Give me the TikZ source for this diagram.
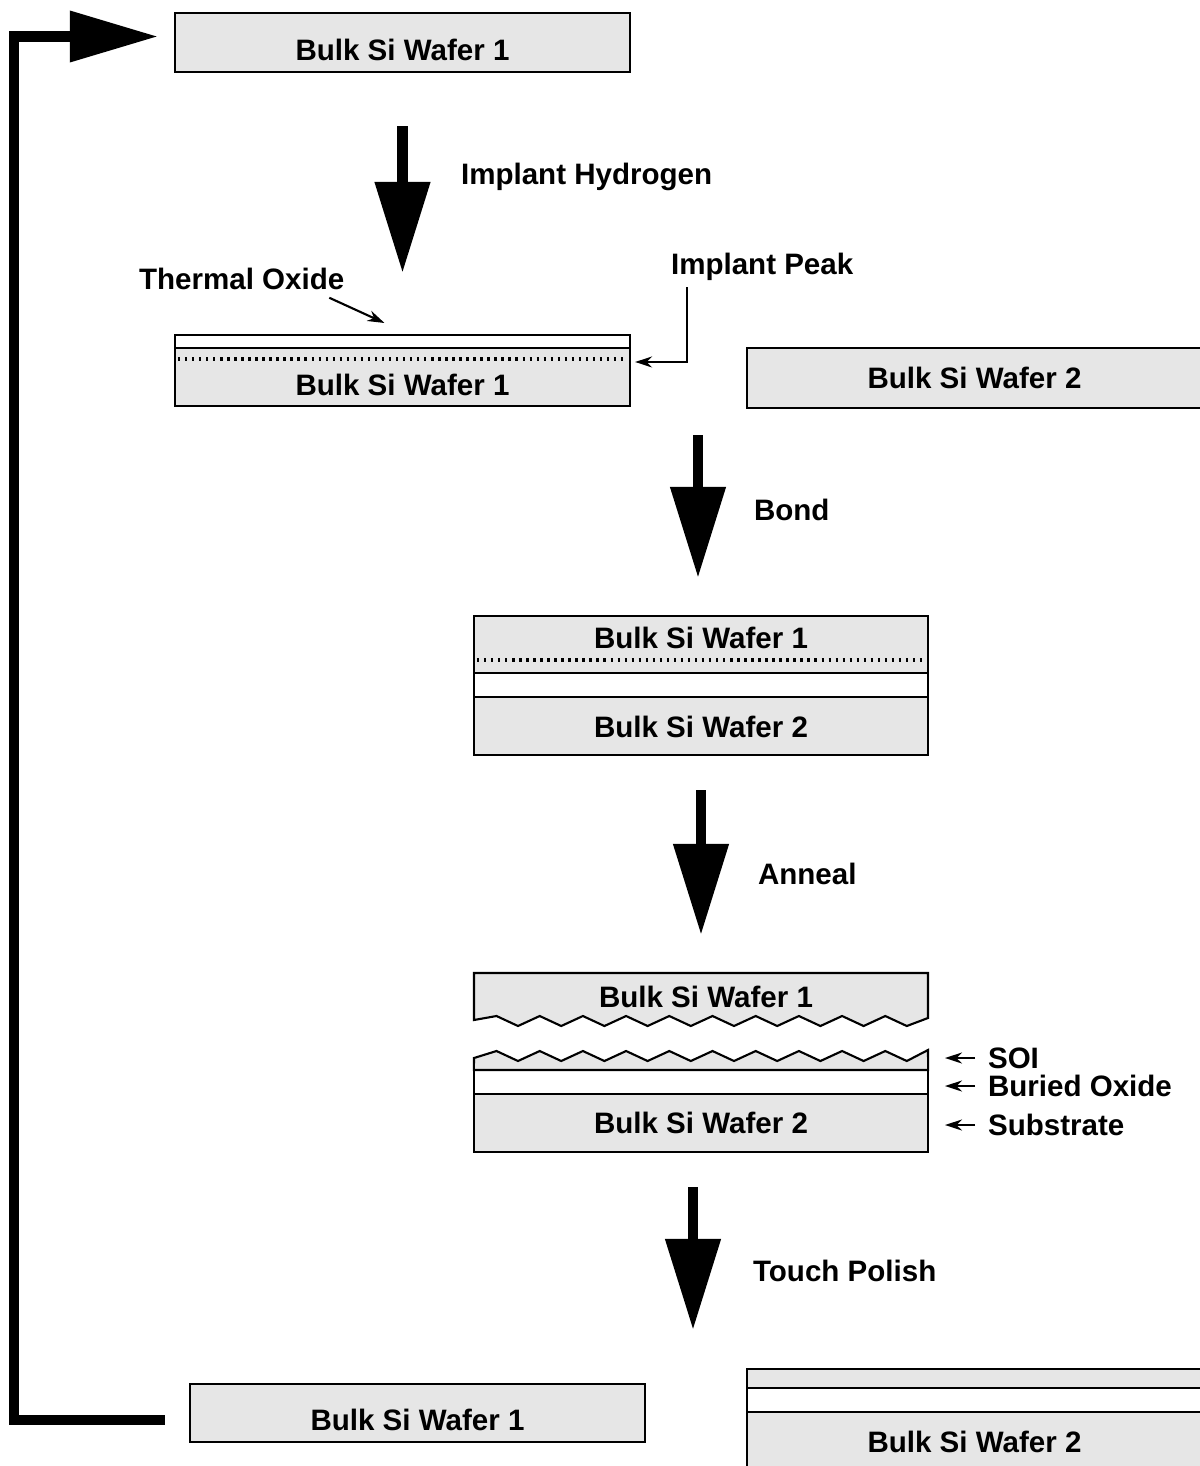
\documentclass[tikz,border=0pt]{standalone}
\usepackage{fontspec}
\setmainfont{Liberation Sans}
\usetikzlibrary{arrows.meta, positioning, calc}
\definecolor{sigrey}{HTML}{E6E6E6}
\tikzset{
  every picture/.style={font=\bfseries\fontsize{8.4}{10}\selectfont, line width=0.6pt},
  wafer/.style={draw, fill=sigrey, minimum width=4.55cm, minimum height=#1, inner sep=0pt, outer sep=0pt},
  wafer/.default=0.59cm,
  oxide/.style={draw, fill=white, minimum width=4.54cm, minimum height=#1, inner sep=0pt, outer sep=0pt},
  implantline/.style={line width=1pt, dash pattern=on 0.7pt off 1.3pt},
  bigarrow/.style={line width=3.1pt, -{Triangle[length=0.91cm, width=0.53cm]}},
  feed/.style={line width=2.9pt, -{Triangle[length=0.88cm, width=0.49cm]}},
  pointer/.style={line width=0.6pt, -{Stealth[length=1.7mm, width=1.1mm]}},
  steplabel/.style={anchor=west, inner sep=0pt, text depth=0pt},
}
\begin{document}
\begin{tikzpicture}[x=0.01cm, y=-0.01cm]
  \useasboundingbox (0,0) rectangle (1199,1466);
  \node[wafer] (top1) at (402.5,42.5) {};
  \node (top1t) at (402.5,49.5) {Bulk Si Wafer 1};
  \node[wafer=0.71cm] (ox1) at (402.5,370.5) {};
  \draw[fill=white] (ox1.north west) rectangle ($(ox1.north east)+(0,13)$);
  \draw[implantline] ($(ox1.north west)+(3,24)$) -- ($(ox1.north east)+(-3,24)$);
  \node (ox1t) at (402.5,385) {Bulk Si Wafer 1};
  \draw[bigarrow, shorten <=0.54cm, shorten >=0.62cm] (top1.south) -- (ox1.north);
  \node[steplabel] (implant) at (460,174) {Implant Hydrogen};
  \node[steplabel] (thox) at (138,279) {Thermal Oxide};
  \draw[pointer] ($(thox.south east)+(-16,7)$) -- ($(ox1.north)+(-18,-12)$);
  \node[steplabel] (peak) at (670,264) {Implant Peak};
  \coordinate (pk) at ($(ox1.north east)+(5,27)$);
  \draw[pointer] ($(peak.west)+(17,23)$) |- (pk);
  \node[wafer=0.6cm] (w2a) at (974.5,378) {Bulk Si Wafer 2};

  \node[wafer=1.39cm, minimum width=4.54cm] (stack) at (701,685.5) {};
  \draw[implantline] ($(stack.north west)+(3,44)$) -- ($(stack.north east)+(-3,44)$);
  \draw[fill=white] ($(stack.north west)+(0,57)$) rectangle ($(stack.north east)+(0,81)$);
  \node (stack1) at (701,638) {Bulk Si Wafer 1};
  \node (stack2) at (701,727) {Bulk Si Wafer 2};
  \coordinate (bond0) at (698,435);
  \draw[bigarrow, shorten >=0.38cm] (bond0) -- (bond0 |- stack.north);
  \node[steplabel] (bond) at (753,510) {Bond};

  \coordinate (split) at (701,973);
  \draw[bigarrow, shorten <=0.35cm, shorten >=0.38cm] (stack.south) -- (split);
  \node[steplabel] (anneal) at (757,874) {Anneal};
  \filldraw[fill=sigrey] (474,973) -- (474,1020)
    \foreach \k in {0,...,9} { -- ({496.5+43.2*\k},1016) -- ({518+43.2*\k},1026) }
    -- (928,1018) -- (928,973) -- cycle;
  \node (cut1) at (706,997) {Bulk Si Wafer 1};
  \node[wafer=0.58cm, minimum width=4.54cm] (sub) at (701,1123) {Bulk Si Wafer 2};
  \node[oxide=0.24cm, above=0pt of sub] (box) {};
  \filldraw[fill=sigrey] (box.north west) -- (474,1058)
    \foreach \k in {0,...,9} { -- ({496.5+43.2*\k},1051) -- ({518+43.2*\k},1061) }
    -- (928,1050) -- (box.north east) -- cycle;
  \node[steplabel] (soi) at (987,1058) {SOI};
  \node[steplabel] (bur) at (987,1086) {Buried Oxide};
  \node[steplabel] (subs) at (987,1125) {Substrate};
  \foreach \n in {soi, bur, subs}
    \draw[pointer] ([xshift=-0.12cm]\n.west) -- ([xshift=-0.42cm]\n.west);

  \coordinate (polish) at (693,1330);
  \draw[bigarrow, shorten <=0.35cm] (polish |- sub.south) -- (polish);
  \node[steplabel] (touch) at (752,1271) {Touch Polish};
  \node[wafer=0.58cm] (w1c) at (417.5,1413) {};
  \node (w1ct) at (417.5,1420) {Bulk Si Wafer 1};
  \node[wafer=0.6cm] (sub2) at (974.5,1442) {Bulk Si Wafer 2};
  \node[oxide=0.24cm, minimum width=4.55cm, above=0pt of sub2] (box2) {};
  \node[wafer=0.19cm, above=0pt of box2] (soi2) {};

  \draw[feed] ([shift={(-0.25cm,-0.07cm)}]w1c.west) -| (14,700) |- ([shift={(-0.17cm,0.06cm)}]top1.west);
\end{tikzpicture}
\end{document}
